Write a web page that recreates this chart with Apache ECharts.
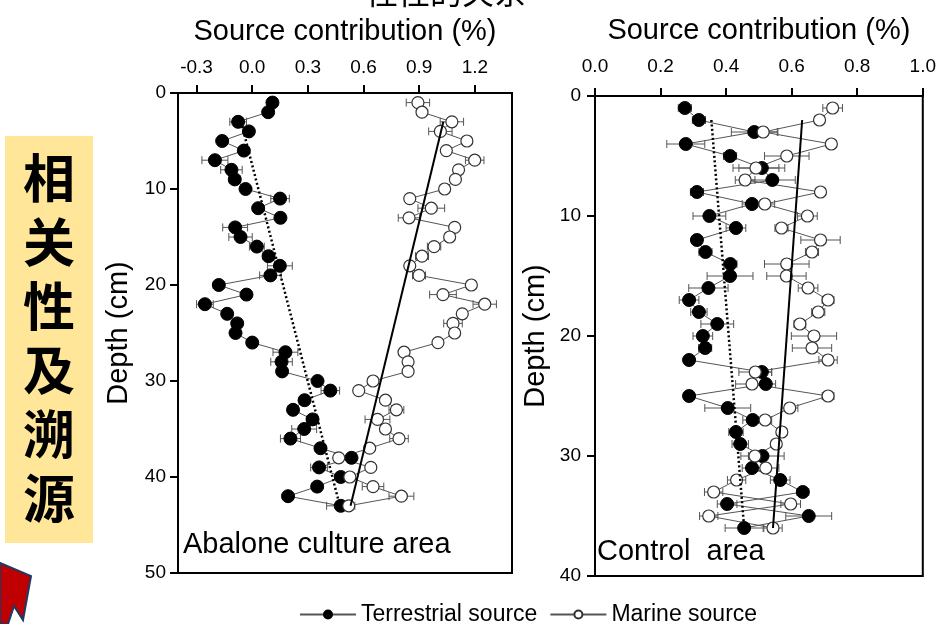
<!DOCTYPE html>
<html><head><meta charset="utf-8">
<script src="https://cdn.jsdelivr.net/npm/echarts@6/dist/echarts.min.js"></script>
<style>html,body{margin:0;padding:0;background:#fff}#c{width:939px;height:624px}</style>
</head><body><div id="c"></div>
<script>
// ---- data ----
const depthL = [1,2,3,4,5,6,7,8,9,10,11,12,13,14,15,16,17,18,19,20,21,22,23,24,25,26,27,28,29,30,31,32,33,34,35,36,37,38,39,40,41,42,43];
const terrL = [0.109,0.086,-0.076,-0.018,-0.162,-0.045,-0.201,-0.112,-0.094,-0.036,0.150,0.032,0.152,-0.092,-0.063,0.025,0.088,0.149,0.098,-0.180,-0.031,-0.255,-0.135,-0.081,-0.090,0.000,0.179,0.158,0.161,0.352,0.421,0.282,0.220,0.325,0.280,0.206,0.368,0.535,0.360,0.477,0.350,0.193,0.477];
const marL = [0.893,0.915,1.076,1.014,1.157,1.046,1.199,1.112,1.095,1.037,0.849,0.965,0.845,1.091,1.064,0.980,0.915,0.849,0.899,1.181,1.028,1.253,1.132,1.082,1.091,1.001,0.818,0.840,0.840,0.651,0.574,0.718,0.777,0.675,0.718,0.791,0.633,0.466,0.639,0.526,0.651,0.804,0.520];
const terrErrL = [0.02,0.02,0.045,0.02,0.015,0.015,0.07,0.058,0.03,0.015,0.05,0.02,0.015,0.067,0.063,0.04,0.03,0.067,0.058,0.03,0.02,0.045,0.015,0.015,0.015,0.015,0.067,0.058,0.02,0.02,0.05,0.02,0.02,0.03,0.067,0.054,0.02,0.02,0.045,0.02,0.02,0.015,0.076];
const marErrL = [0.063,0.02,0.063,0.063,0.025,0.02,0.05,0.02,0.02,0.02,0.02,0.072,0.058,0.02,0.02,0.036,0.035,0.02,0.035,0.02,0.072,0.063,0.02,0.05,0.02,0.02,0.02,0.02,0.02,0.02,0.02,0.02,0.04,0.067,0.02,0.05,0.02,0.02,0.02,0.02,0.058,0.067,0.02];

const depthR = [1,2,3,4,5,6,7,8,9,10,11,12,13,14,15,16,17,18,19,20,21,22,23,24,25,26,27,28,29,30,31,32,33,34,35,36];
const terrR = [0.274,0.317,0.486,0.277,0.412,0.509,0.541,0.311,0.479,0.349,0.430,0.311,0.337,0.413,0.412,0.346,0.287,0.317,0.373,0.329,0.336,0.287,0.509,0.521,0.287,0.405,0.481,0.430,0.443,0.511,0.479,0.565,0.634,0.403,0.652,0.455];
const marR = [0.725,0.685,0.513,0.721,0.585,0.491,0.458,0.688,0.518,0.648,0.569,0.688,0.662,0.585,0.584,0.650,0.711,0.681,0.625,0.668,0.662,0.711,0.489,0.479,0.711,0.594,0.519,0.570,0.553,0.488,0.521,0.432,0.362,0.597,0.347,0.543];
const terrErrR = [0.02,0.02,0.07,0.058,0.02,0.07,0.07,0.02,0.03,0.05,0.03,0.015,0.02,0.02,0.07,0.06,0.03,0.025,0.05,0.03,0.02,0.015,0.03,0.03,0.015,0.07,0.03,0.022,0.025,0.066,0.03,0.03,0.018,0.03,0.07,0.058];
const marErrR = [0.03,0.015,0.045,0.015,0.068,0.07,0.03,0.015,0.03,0.03,0.02,0.06,0.02,0.068,0.06,0.03,0.018,0.02,0.018,0.069,0.06,0.028,0.05,0.05,0.018,0.025,0.02,0.015,0.015,0.02,0.04,0.028,0.028,0.03,0.028,0.028];

// regression lines [value, depth]
const terrTrendL = [[-0.06,3],[0.472,43]];
const marTrendL = [[1.03,3],[0.53,43]];
const terrTrendR = [[0.355,2],[0.455,36]];
const marTrendR = [[0.632,2],[0.543,36]];

const ticksL = [-0.3,0.0,0.3,0.6,0.9,1.2];
const seriesNames = ['Terrestrial source','Marine source'];
const panelLabels = ['Abalone culture area','Control  area'];
const axisTitleX = 'Source contribution (%)';
const axisTitleY = 'Depth (cm)';
const sideText = '相\n关\n性\n及\n溯\n源';
const topCutText = '性性的关系';

// ---- build ----
const FONT = '"Liberation Sans", Arial, sans-serif';
const chart = echarts.init(document.getElementById('c'));
function pts(vals, depths){ return vals.map((v,i)=>[v, depths[i]]); }
function errPts(vals, errs, depths){ return vals.map((v,i)=>[v, depths[i], errs[i]]); }
function errSeries(idx, data){
  return {type:'custom', xAxisIndex:idx, yAxisIndex:idx, data:data, z:1, silent:true,
    encode:{x:0,y:1},
    renderItem:function(params, api){
      const v=api.value(0), d=api.value(1), e=api.value(2);
      const a=api.coord([v-e,d]), b=api.coord([v+e,d]); const h=4;
      const st={stroke:'#555',lineWidth:1};
      return {type:'group', children:[
        {type:'line', shape:{x1:a[0],y1:a[1],x2:b[0],y2:b[1]}, style:st},
        {type:'line', shape:{x1:a[0],y1:a[1]-h,x2:a[0],y2:a[1]+h}, style:st},
        {type:'line', shape:{x1:b[0],y1:b[1]-h,x2:b[0],y2:b[1]+h}, style:st}
      ]};
    }};
}
function dataLine(idx, name, data, filled){
  return {type:'line', name:name, xAxisIndex:idx, yAxisIndex:idx, data:data, z:3,
    symbol:'circle', symbolSize: filled?13:12, showSymbol:true,
    lineStyle:{color:'#555', width:1},
    itemStyle: filled ? {color:'#000', borderColor:'#000', borderWidth:1} : {color:'#fff', borderColor:'#333', borderWidth:1.2},
    emphasis:{disabled:true}};
}
function trend(idx, data, dotted){
  return {type:'line', xAxisIndex:idx, yAxisIndex:idx, data:data, z:4, symbol:'none',
    lineStyle:{color:'#000', width: dotted?2.5:2, type: dotted?[2,2.5]:'solid'}};
}
function xAxisCfg(idx, opts, margin){
  return Object.assign({type:'value', gridIndex:idx, position:'top',
    name:axisTitleX, nameLocation:'middle',
    nameTextStyle:{fontSize:29, color:'#000', fontFamily:FONT},
    axisLine:{show:true, onZero:false, lineStyle:{color:'#000', width:2}},
    axisTick:{show:true, inside:false, length:8, lineStyle:{color:'#000', width:2}},
    axisLabel:{fontSize:19, color:'#000', fontFamily:FONT, margin:margin, formatter:v=>v.toFixed(1)},
    splitLine:{show:false}}, opts);
}
function yAxisCfg(idx, max, margin){
  return {type:'value', gridIndex:idx, inverse:true, min:0, max:max, interval:10,
    name:axisTitleY, nameLocation:'middle', nameRotate:90, nameGap:45,
    nameTextStyle:{fontSize:29, color:'#000', fontFamily:FONT},
    axisLine:{show:true, onZero:false, lineStyle:{color:'#000', width:2}},
    axisTick:{show:true, inside:false, length:8, lineStyle:{color:'#000', width:2}},
    axisLabel:{fontSize:19, color:'#000', fontFamily:FONT, margin:margin},
    splitLine:{show:false}};
}
const xl = xAxisCfg(0, {min:-0.4, max:1.4, nameGap:47}, 16);
xl.axisTick.customValues = ticksL;
xl.axisLabel.customValues = ticksL;
const xr = xAxisCfg(1, {min:0, max:1, interval:0.2, nameGap:51}, 20);

chart.setOption({
  animation:false,
  backgroundColor:'#fff',
  grid:[
    {left:178, top:93, width:334, height:480, show:true, borderColor:'#000', borderWidth:2},
    {left:595, top:96, width:330, height:480, show:true, borderColor:'#000', borderWidth:2}
  ],
  xAxis:[xl, xr],
  yAxis:[yAxisCfg(0,50,12), yAxisCfg(1,40,14)],
  legend:{data:seriesNames, left:294, top:598, itemWidth:56, itemHeight:10, itemGap:12,
    textStyle:{fontSize:23, color:'#000', fontFamily:FONT}},
  graphic:[
    {type:'text', x:446, y:-8, style:{text:topCutText, font:'32px "Noto Sans CJK SC"', fill:'#000', align:'center', verticalAlign:'middle'}},
    {type:'rect', left:5, top:136, shape:{width:88, height:407}, style:{fill:'#FFE699'}, z:0},
    {type:'text', x:49, y:338, style:{text:sideText, font:'bold 52px "Noto Sans CJK SC"', lineHeight:64, fill:'#000', align:'center', verticalAlign:'middle'}},
    {type:'polygon', shape:{points:[[0,563],[31,576],[23,620],[14,606],[8,624],[0,624]]}, style:{fill:'#C00000', stroke:'#1F3864', lineWidth:2}},
    {type:'text', x:183, y:545, style:{text:panelLabels[0], font:'29px '+FONT, fill:'#000', verticalAlign:'middle'}},
    {type:'text', x:597, y:552, style:{text:panelLabels[1], font:'29px '+FONT, fill:'#000', verticalAlign:'middle'}}
  ],
  series:[
    errSeries(0, errPts(terrL, terrErrL, depthL)),
    errSeries(0, errPts(marL, marErrL, depthL)),
    dataLine(0, seriesNames[0], pts(terrL, depthL), true),
    dataLine(0, seriesNames[1], pts(marL, depthL), false),
    trend(0, terrTrendL, true),
    trend(0, marTrendL, false),
    errSeries(1, errPts(terrR, terrErrR, depthR)),
    errSeries(1, errPts(marR, marErrR, depthR)),
    dataLine(1, seriesNames[0], pts(terrR, depthR), true),
    dataLine(1, seriesNames[1], pts(marR, depthR), false),
    trend(1, terrTrendR, true),
    trend(1, marTrendR, false)
  ]
});
</script></body></html>
